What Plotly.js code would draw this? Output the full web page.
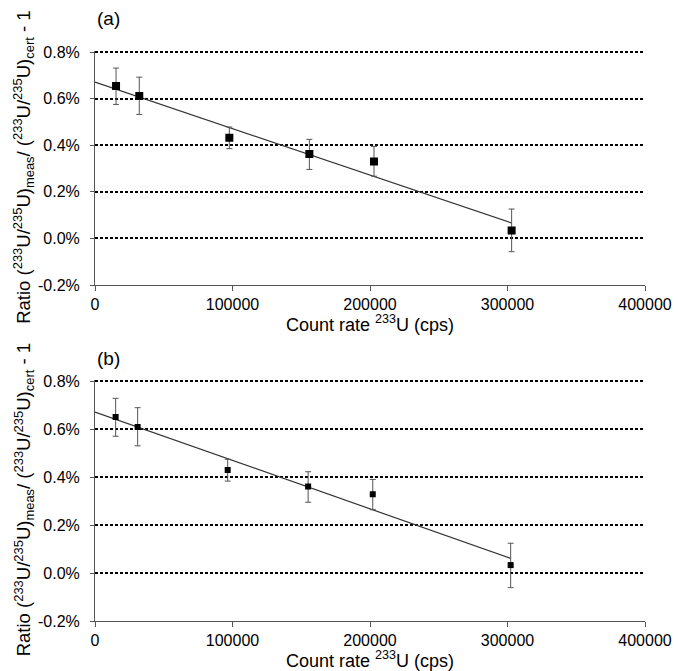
<!DOCTYPE html>
<html>
<head>
<meta charset="utf-8">
<script src="https://cdn.plot.ly/plotly-3.0.1.min.js"></script>
<style>html,body{margin:0;padding:0;background:#fff;}#chart{width:678px;height:671px;}</style>
</head>
<body>
<div id="chart"></div>
<script>
// Panel (a)
const countRateA = [15300, 32200, 97700, 155900, 202900, 303000];
const ratioA     = [0.654, 0.611, 0.432, 0.362, 0.330, 0.034];
const errUpA     = [0.077, 0.081, 0.046, 0.063, 0.065, 0.092];
const errDownA   = [0.079, 0.079, 0.047, 0.066, 0.063, 0.091];
const fitXA = [0, 303000];
const fitYA = [0.671, 0.066];

// Panel (b)
const countRateB = [15000, 31000, 96500, 155000, 202000, 302300];
const ratioB     = [0.650, 0.608, 0.429, 0.360, 0.328, 0.033];
const errUpB     = [0.078, 0.081, 0.045, 0.062, 0.062, 0.091];
const errDownB   = [0.080, 0.078, 0.046, 0.065, 0.064, 0.094];
const fitXB = [0, 302300];
const fitYB = [0.671, 0.061];

const yTickVals = [-0.2, 0, 0.2, 0.4, 0.6, 0.8];
const xTickVals = [0, 100000, 200000, 300000, 400000];

const yTitle = 'Ratio (<sup>233</sup>U/<sup>235</sup>U)<sub>meas</sub>/ (<sup>233</sup>U/<sup>235</sup>U)<sub>cert</sub> - 1';
const xTitle = 'Count rate <sup>233</sup>U (cps)';

const FONT = 'Liberation Sans, Arial, sans-serif';

function pts(x, y, up, down, xa, ya, size) {
  return {
    x: x, y: y, xaxis: xa, yaxis: ya, type: 'scatter', mode: 'markers',
    marker: {symbol: 'square', color: '#000', size: size},
    error_y: {type: 'data', symmetric: false, array: up, arrayminus: down,
              color: '#555', thickness: 1, width: 3},
    showlegend: false, hoverinfo: 'x+y'
  };
}
function fit(x, y, xa, ya) {
  return {x: x, y: y, xaxis: xa, yaxis: ya, type: 'scatter', mode: 'lines',
          line: {color: '#333', width: 1.2}, showlegend: false};
}

const data = [
  fit(fitXA, fitYA, 'x', 'y'),
  pts(countRateA, ratioA, errUpA, errDownA, 'x', 'y', 8),
  fit(fitXB, fitYB, 'x2', 'y2'),
  pts(countRateB, ratioB, errUpB, errDownB, 'x2', 'y2', 6)
];

function xaxis(anchor) {
  return {
    anchor: anchor, domain: [0, 1], range: [0, 400000],
    tickvals: xTickVals, ticktext: xTickVals.map(v => String(v)),
    ticks: 'outside', ticklen: 5, tickcolor: '#555', tickwidth: 1,
    showline: true, linecolor: '#555', linewidth: 1,
    showgrid: false, zeroline: false, automargin: false,
    tickfont: {family: FONT, size: 16, color: '#000'}
  };
}
const YMAX = 0.806;
function yaxis(anchor, domain) {
  return {
    anchor: anchor, domain: domain, range: [-0.2, YMAX],
    tickvals: yTickVals, ticktext: yTickVals.map(v => v.toFixed(1) + '%'),
    ticks: 'outside', ticklen: 4, tickcolor: '#555', tickwidth: 1,
    ticklabelstandoff: 7,
    showline: true, linecolor: '#555', linewidth: 1,
    showgrid: true, gridcolor: '#000', gridwidth: 2, griddash: '3px,2px',
    zeroline: false, automargin: false,
    tickfont: {family: FONT, size: 16, color: '#000'}
  };
}

const H = 671;
const layout = {
  width: 678, height: 671,
  margin: {l: 95, r: 33, t: 0, b: 0},
  paper_bgcolor: '#fff', plot_bgcolor: '#fff',
  font: {family: FONT, color: '#000'},
  xaxis: xaxis('y'),
  yaxis: yaxis('x', [1 - 285 / H, 1 - 50.6 / H]),
  xaxis2: xaxis('y2'),
  yaxis2: yaxis('x2', [1 - 621 / H, 1 - 379.6 / H]),
  annotations: [
    {text: '(a)', xref: 'x domain', yref: 'y domain', x: 0, y: 1, xanchor: 'left', yanchor: 'bottom',
     xshift: 0, yshift: 20, showarrow: false, font: {family: FONT, size: 19}},
    {text: '(b)', xref: 'x2 domain', yref: 'y2 domain', x: 0, y: 1, xanchor: 'left', yanchor: 'bottom',
     xshift: 0, yshift: 9, showarrow: false, font: {family: FONT, size: 19}},
    {text: xTitle, xref: 'x domain', yref: 'y domain', x: 0.5, y: 0, xanchor: 'center', yanchor: 'top',
     yshift: -25, showarrow: false, font: {family: FONT, size: 18}},
    {text: xTitle, xref: 'x2 domain', yref: 'y2 domain', x: 0.5, y: 0, xanchor: 'center', yanchor: 'top',
     yshift: -25, showarrow: false, font: {family: FONT, size: 18}},
    {text: yTitle, xref: 'x domain', yref: 'y domain', x: 0, y: 0.5, xanchor: 'center', yanchor: 'middle',
     xshift: -71, textangle: -90, showarrow: false, font: {family: FONT, size: 18.5}},
    {text: yTitle, xref: 'x2 domain', yref: 'y2 domain', x: 0, y: 0.5, xanchor: 'center', yanchor: 'middle',
     xshift: -71, textangle: -90, showarrow: false, font: {family: FONT, size: 18.5}}
  ]
};

Plotly.newPlot('chart', data, layout, {staticPlot: true});
</script>
</body>
</html>
